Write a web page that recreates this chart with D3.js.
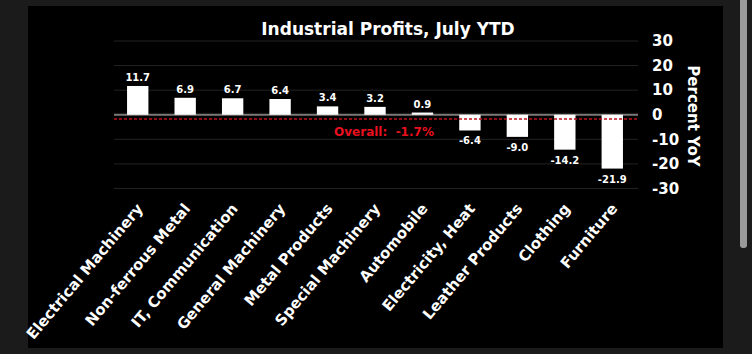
<!DOCTYPE html>
<html>
<head>
<meta charset="utf-8">
<script src="https://cdn.jsdelivr.net/npm/d3@7"></script>
<style>
  body { margin: 0; background: #1b1b1b; overflow: hidden; }
  text { font-family: 'DejaVu Sans', sans-serif; font-weight: bold; fill: #fff; }
</style>
</head>
<body>
<script>
var categories = ['Electrical Machinery', 'Non-ferrous Metal', 'IT, Communication', 'General Machinery',
  'Metal Products', 'Special Machinery', 'Automobile', 'Electricity, Heat', 'Leather Products',
  'Clothing', 'Furniture'];
var values = [11.7, 6.9, 6.7, 6.4, 3.4, 3.2, 0.9, -6.4, -9.0, -14.2, -21.9];
var overall = -1.7;
var yTicks = [30, 20, 10, 0, -10, -20, -30];

var W = 752, H = 354;

var svg = d3.select('body').append('svg')
    .attr('width', W)
    .attr('height', H);

// black panel + scrollbar look
svg.append('rect')
    .attr('x', 28).attr('y', 6)
    .attr('width', 695).attr('height', 342)
    .attr('fill', '#000');
svg.append('rect')
    .attr('x', 740).attr('y', -4)
    .attr('width', 7).attr('height', 252)
    .attr('rx', 3)
    .attr('fill', '#9a9a9a');

var x = d3.scaleBand()
    .domain(categories)
    .range([114, 636])
    .paddingInner(0.55)
    .paddingOuter(0.275);

var y = d3.scaleLinear()
    .domain([-30, 30])
    .range([188.5, 41]);

var g = svg.append('g');

// gridlines
g.selectAll('.grid')
    .data(yTicks.filter(function(d) { return d !== 0; }))
  .enter().append('line')
    .attr('x1', 114).attr('x2', 638)
    .attr('y1', function(d) { return y(d); })
    .attr('y2', function(d) { return y(d); })
    .attr('stroke', '#222')
    .attr('stroke-width', 1);

// right axis
var yAxis = d3.axisRight(y).tickValues(yTicks).tickSize(0).tickPadding(0)
    .tickFormat(function(d) { return d < 0 ? '-' + Math.abs(d) : d; });
var ax = svg.append('g')
    .attr('transform', 'translate(652,0)')
    .call(yAxis);
ax.select('.domain').remove();
ax.selectAll('text')
    .attr('fill', '#fff')
    .style('font-size', '15px')
    .style('font-family', "'DejaVu Sans', sans-serif")
    .style('font-weight', 'bold');

svg.append('text')
    .attr('transform', 'translate(688,116) rotate(90)')
    .attr('text-anchor', 'middle')
    .style('font-size', '15px')
    .text('Percent YoY');

// zero line
g.append('line')
    .attr('x1', 114).attr('x2', 638)
    .attr('y1', y(0)).attr('y2', y(0))
    .attr('stroke', '#7a7a7a')
    .attr('stroke-width', 2);

// bars
g.selectAll('.bar')
    .data(values)
  .enter().append('rect')
    .attr('class', 'bar')
    .attr('x', function(d, i) { return x(categories[i]); })
    .attr('width', x.bandwidth())
    .attr('y', function(d) { return y(Math.max(0, d)); })
    .attr('height', function(d) { return Math.abs(y(d) - y(0)); })
    .attr('fill', '#fff');

// overall dashed line
g.append('line')
    .attr('x1', 114).attr('x2', 638)
    .attr('y1', y(overall)).attr('y2', y(overall))
    .attr('stroke', '#c0101a')
    .attr('stroke-width', 1.5)
    .attr('stroke-dasharray', '3,2');

g.append('text')
    .attr('x', 384)
    .attr('y', 136)
    .attr('text-anchor', 'middle')
    .style('font-size', '12px')
    .style('fill', '#e8101e')
    .attr('xml:space', 'preserve')
    .text('Overall:  ' + overall + '%');

// value labels
g.selectAll('.val')
    .data(values)
  .enter().append('text')
    .attr('x', function(d, i) { return x(categories[i]) + x.bandwidth() / 2; })
    .attr('y', function(d) { return d >= 0 ? y(d) - 5 : y(d) + 14; })
    .attr('text-anchor', 'middle')
    .style('font-size', '10px')
    .text(function(d) { return d.toFixed(1); });

// category labels
g.selectAll('.cat')
    .data(categories)
  .enter().append('text')
    .attr('transform', function(d) {
      return 'translate(' + (x(d) + x.bandwidth() / 2 + 6) + ',209) rotate(-50)';
    })
    .attr('text-anchor', 'end')
    .style('font-size', '15px')
    .text(function(d) { return d; });

// title
svg.append('text')
    .attr('x', 388)
    .attr('y', 35)
    .attr('text-anchor', 'middle')
    .style('font-size', '17px')
    .text('Industrial Profits, July YTD');
</script>
</body>
</html>
